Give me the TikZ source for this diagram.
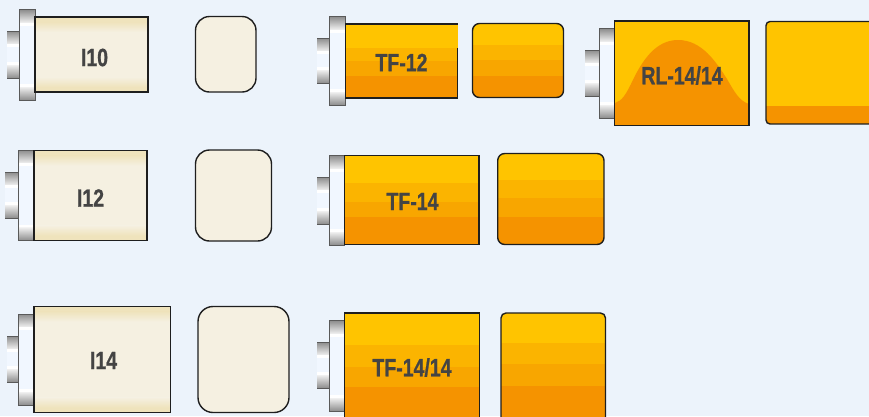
\documentclass[tikz,border=0pt]{standalone}
\usepackage{fontspec}
\setmainfont{Liberation Sans}
\newfontfamily\labelfont[FakeBold=1.0]{Liberation Sans Bold}
\definecolor{bgc}{HTML}{ECF3FB}
\definecolor{inner}{HTML}{F1F7FF}
\definecolor{creamc}{HTML}{F5F0E1}
\definecolor{creamd}{HTML}{EFE3BC}
\definecolor{ya}{HTML}{FFC400}
\definecolor{yb}{HTML}{FBB400}
\definecolor{yc}{HTML}{F8A600}
\definecolor{yd}{HTML}{F59300}
\definecolor{ink}{HTML}{1E1E1E}
\definecolor{txtc}{HTML}{444444}
\tikzset{
  outline/.style={draw=ink,line width=1.4pt},
  thinline/.style={draw=black!65,line width=0.9pt},
  label/.style={text=txtc,font=\labelfont\fontsize{25}{26}\selectfont,xscale=0.78,inner sep=0pt}
}
% plug: stem x1,x2,y1,y2 then flange x1,x2,y1,y2
\newcommand{\plugpart}[4]{%
  \fill[inner] (#1,#3) rectangle (#2,#4);
  \shade[top color=black!45,bottom color=black!6] (#1,#3) rectangle (#2,#3+13);
  \fill[white] (#1,#3+13) rectangle (#2,#3+16);
  \fill[white] (#1,#4-16) rectangle (#2,#4-13);
  \shade[top color=black!6,bottom color=black!45] (#1,#4-13) rectangle (#2,#4);
}
\newcommand{\plug}[8]{%
  \plugpart{#1}{#2}{#3}{#4}
  \draw[black!65,line width=0.7pt] (#1,#3) -- (#2,#3) (#1,#4) -- (#2,#4);
  \plugpart{#5}{#6}{#7}{#8}
  \draw[thinline] (#5,#7) rectangle (#6,#8);
}
\newcommand{\stripes}[8]{% x1 x2 y1 y2 b1 b2 b3 corner radius
  \begin{scope}
    \clip[rounded corners=#8] (#1,#3) rectangle (#2,#4);
    \fill[ya] (#1,#3) rectangle (#2,#5);
    \fill[yb] (#1,#5) rectangle (#2,#6);
    \fill[yc] (#1,#6) rectangle (#2,#7);
    \fill[yd] (#1,#7) rectangle (#2,#4);
  \end{scope}
  \draw[outline,rounded corners=#8] (#1,#3) rectangle (#2,#4);
}
\newcommand{\creambody}[4]{%
  \fill[creamc] (#1,#3) rectangle (#2,#4);
  \fill[creamd] (#1,#3) rectangle (#2,#3+5);
  \shade[top color=creamd,bottom color=creamc] (#1,#3+5) rectangle (#2,#3+15);
  \shade[top color=creamc,bottom color=creamd] (#1,#4-15) rectangle (#2,#4-5);
  \fill[creamd] (#1,#4-5) rectangle (#2,#4);
  \draw[outline] (#1,#3) rectangle (#2,#4);
}
\begin{document}
\begin{tikzpicture}[x=1pt,y=-1pt]
\useasboundingbox (0,0) rectangle (869,416);
\clip (0,0) rectangle (869,416);
\fill[bgc] (0,0) rectangle (869,416);

% I10
\plug{7}{19.5}{31}{78}{19.5}{35}{9.5}{100}
\creambody{35}{148}{17}{92}
\node[label] (i10) at (94.5,57.5) {I10};
\draw[outline,fill=creamc,rounded corners=14pt] (195.5,16.5) rectangle (256,92);

% I12
\plug{5}{18}{172}{218}{18}{34}{150}{240.5}
\creambody{34}{147}{150.5}{240.5}
\node[label] (i12) at (90.5,198) {I12};
\draw[outline,fill=creamc,rounded corners=14pt] (195.5,150) rectangle (271.5,241);

% I14
\plug{7}{18.5}{336}{382}{18.5}{34}{314}{405}
\creambody{34}{170.5}{306.5}{412.5}
\node[label] (i14) at (103.5,360.5) {I14};
\draw[outline,fill=creamc,rounded corners=15pt] (198,306.5) rectangle (289,412.5);

% TF-12
\plug{317}{329.5}{38}{83}{329.5}{345.5}{16.5}{105}
\stripes{345.5}{457.5}{24}{98}{48}{61}{76}{0pt}
\fill[ya] (457,24.7) rectangle (458.2,48);
\node[label] (tf12) at (401.5,62.5) {TF-12};
\stripes{472.5}{563.5}{23.5}{97.5}{45}{60}{76}{7pt}

% TF-14
\plug{317}{329}{177}{224}{329}{344.5}{155.5}{245}
\stripes{344.5}{479}{155.5}{244.5}{183}{202}{217}{0pt}
\node[label] (tf14) at (412.5,201.5) {TF-14};
\stripes{497.7}{604}{153.5}{244.5}{180}{198}{217}{7pt}

% TF-14/14
\plug{317}{329}{342}{388}{329}{345}{320.5}{411}
\stripes{344.5}{479.5}{313}{425}{345}{367}{387}{0pt}
\node[label] (tf1414) at (412,367.5) {TF-14/14};
\stripes{501}{605.5}{313}{425}{343}{363.5}{385.5}{5pt}

% RL-14/14
\plug{585}{599.5}{50}{96}{599.5}{614.5}{28.5}{118}
\fill[ya] (614.5,21) rectangle (749,125.5);
\fill[yd] (615,103) .. controls (622,101) and (626,94) .. (631,84)
  .. controls (642,60) and (656,40) .. (678,40)
  .. controls (702,40) and (716,62) .. (727,79)
  .. controls (734,91) and (739,101) .. (749,104)
  -- (749,125.5) -- (614.5,125.5) -- cycle;
\draw[outline] (614.5,21) rectangle (749,125.5);
\node[label] (rl) at (682,75.5) {RL-14/14};

\begin{scope}
  \clip[rounded corners=4pt] (766,21.5) rectangle (890,124);
  \fill[ya] (766,21.5) rectangle (890,106);
  \fill[yd] (766,106) rectangle (890,124);
\end{scope}
\draw[outline,rounded corners=4pt] (766,21.5) rectangle (890,124);
\end{tikzpicture}
\end{document}
